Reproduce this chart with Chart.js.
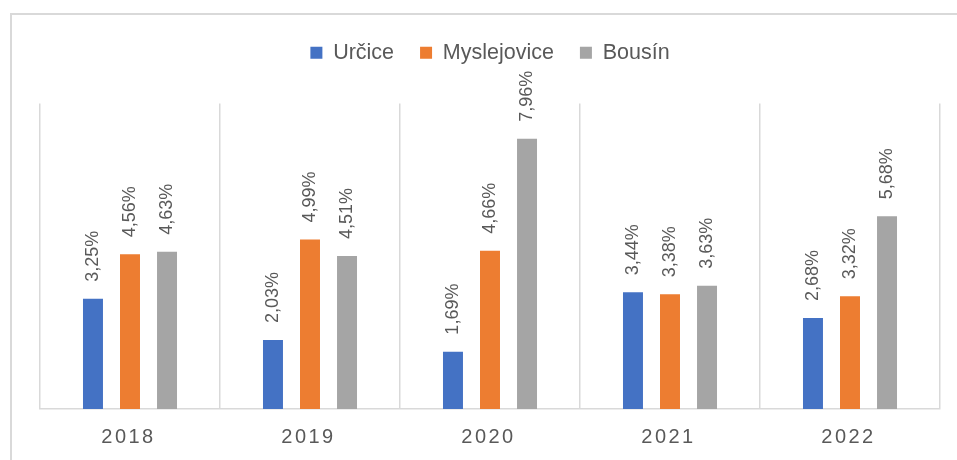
<!DOCTYPE html>
<html>
<head>
<meta charset="utf-8">
<script src="https://cdn.jsdelivr.net/npm/chart.js@4"></script>
<style>
  html, body { margin: 0; padding: 0; background: #fff; overflow: hidden; }
  #wrap { position: relative; width: 957px; height: 460px; }
  #frame { position: absolute; left: 10px; top: 13px; width: 1000px; height: 500px;
           border: 2px solid #d9d9d9; box-sizing: border-box; }
  canvas { position: absolute; left: 0; top: 0; }
</style>
</head>
<body>
<div id="wrap">
  <div id="frame"></div>
  <canvas id="chart" width="957" height="460"></canvas>
</div>
<script>
const years = ["2018", "2019", "2020", "2021", "2022"];
const urcice = [3.25, 2.03, 1.69, 3.44, 2.68];
const myslejovice = [4.56, 4.99, 4.66, 3.38, 3.32];
const bousin = [4.63, 4.51, 7.96, 3.63, 5.68];

const FONT = "'Liberation Sans', Arial, sans-serif";
const TEXT = "#595959";

// popisky nad sloupci, otocene o 90 stupnu
const barLabels = {
  id: 'barLabels',
  afterDatasetsDraw(chart) {
    const ctx = chart.ctx;
    ctx.save();
    ctx.font = "18px " + FONT;
    ctx.fillStyle = TEXT;
    ctx.textAlign = 'left';
    ctx.textBaseline = 'middle';
    chart.data.datasets.forEach((ds, i) => {
      chart.getDatasetMeta(i).data.forEach((bar, j) => {
        const txt = ds.data[j].toFixed(2).replace('.', ',') + '%';
        ctx.save();
        ctx.translate(bar.x, bar.y - 17);
        ctx.rotate(-Math.PI / 2);
        ctx.fillText(txt, 0, 0);
        ctx.restore();
      });
    });
    ctx.restore();
    // roztazene popisky osy x (popisky se kresli az po datech, ticks.z: 1)
    ctx.letterSpacing = '2.5px';
  },
  afterDraw(chart) {
    chart.ctx.letterSpacing = '0px';
  }
};

// vetsi mezera pod legendou
const legendGap = {
  id: 'legendGap',
  beforeInit(chart) {
    const fit = chart.legend.fit;
    chart.legend.fit = function () {
      fit.bind(chart.legend)();
      this.height += 30;
    };
  }
};

new Chart(document.getElementById("chart"), {
  type: 'bar',
  data: {
    labels: years,
    datasets: [
      { label: "Určice", data: urcice, backgroundColor: "#4472C4" },
      { label: "Myslejovice", data: myslejovice, backgroundColor: "#ED7D31" },
      { label: "Bousín", data: bousin, backgroundColor: "#A5A5A5" }
    ]
  },
  options: {
    responsive: false,
    animation: false,
    categoryPercentage: 0.617,
    barPercentage: 0.54,
    layout: { padding: { left: 40, right: 17, top: 16, bottom: 0 } },
    plugins: {
      legend: {
        position: 'top',
        labels: {
          boxWidth: 12,
          boxHeight: 12,
          padding: 26,
          color: TEXT,
          font: { size: 21.5, family: FONT }
        }
      },
      tooltip: { enabled: false }
    },
    scales: {
      x: {
        grid: { color: "#d9d9d9", lineWidth: 1.5, drawTicks: false },
        border: { color: "#d9d9d9", width: 1.5 },
        ticks: { z: 1, color: TEXT, padding: 16, labelOffset: -1.5, font: { size: 20, family: FONT } },
        afterFit(scale) { scale.height = 51; }
      },
      y: {
        display: false,
        min: 0,
        max: 9
      }
    }
  },
  plugins: [barLabels, legendGap]
});
</script>
</body>
</html>
